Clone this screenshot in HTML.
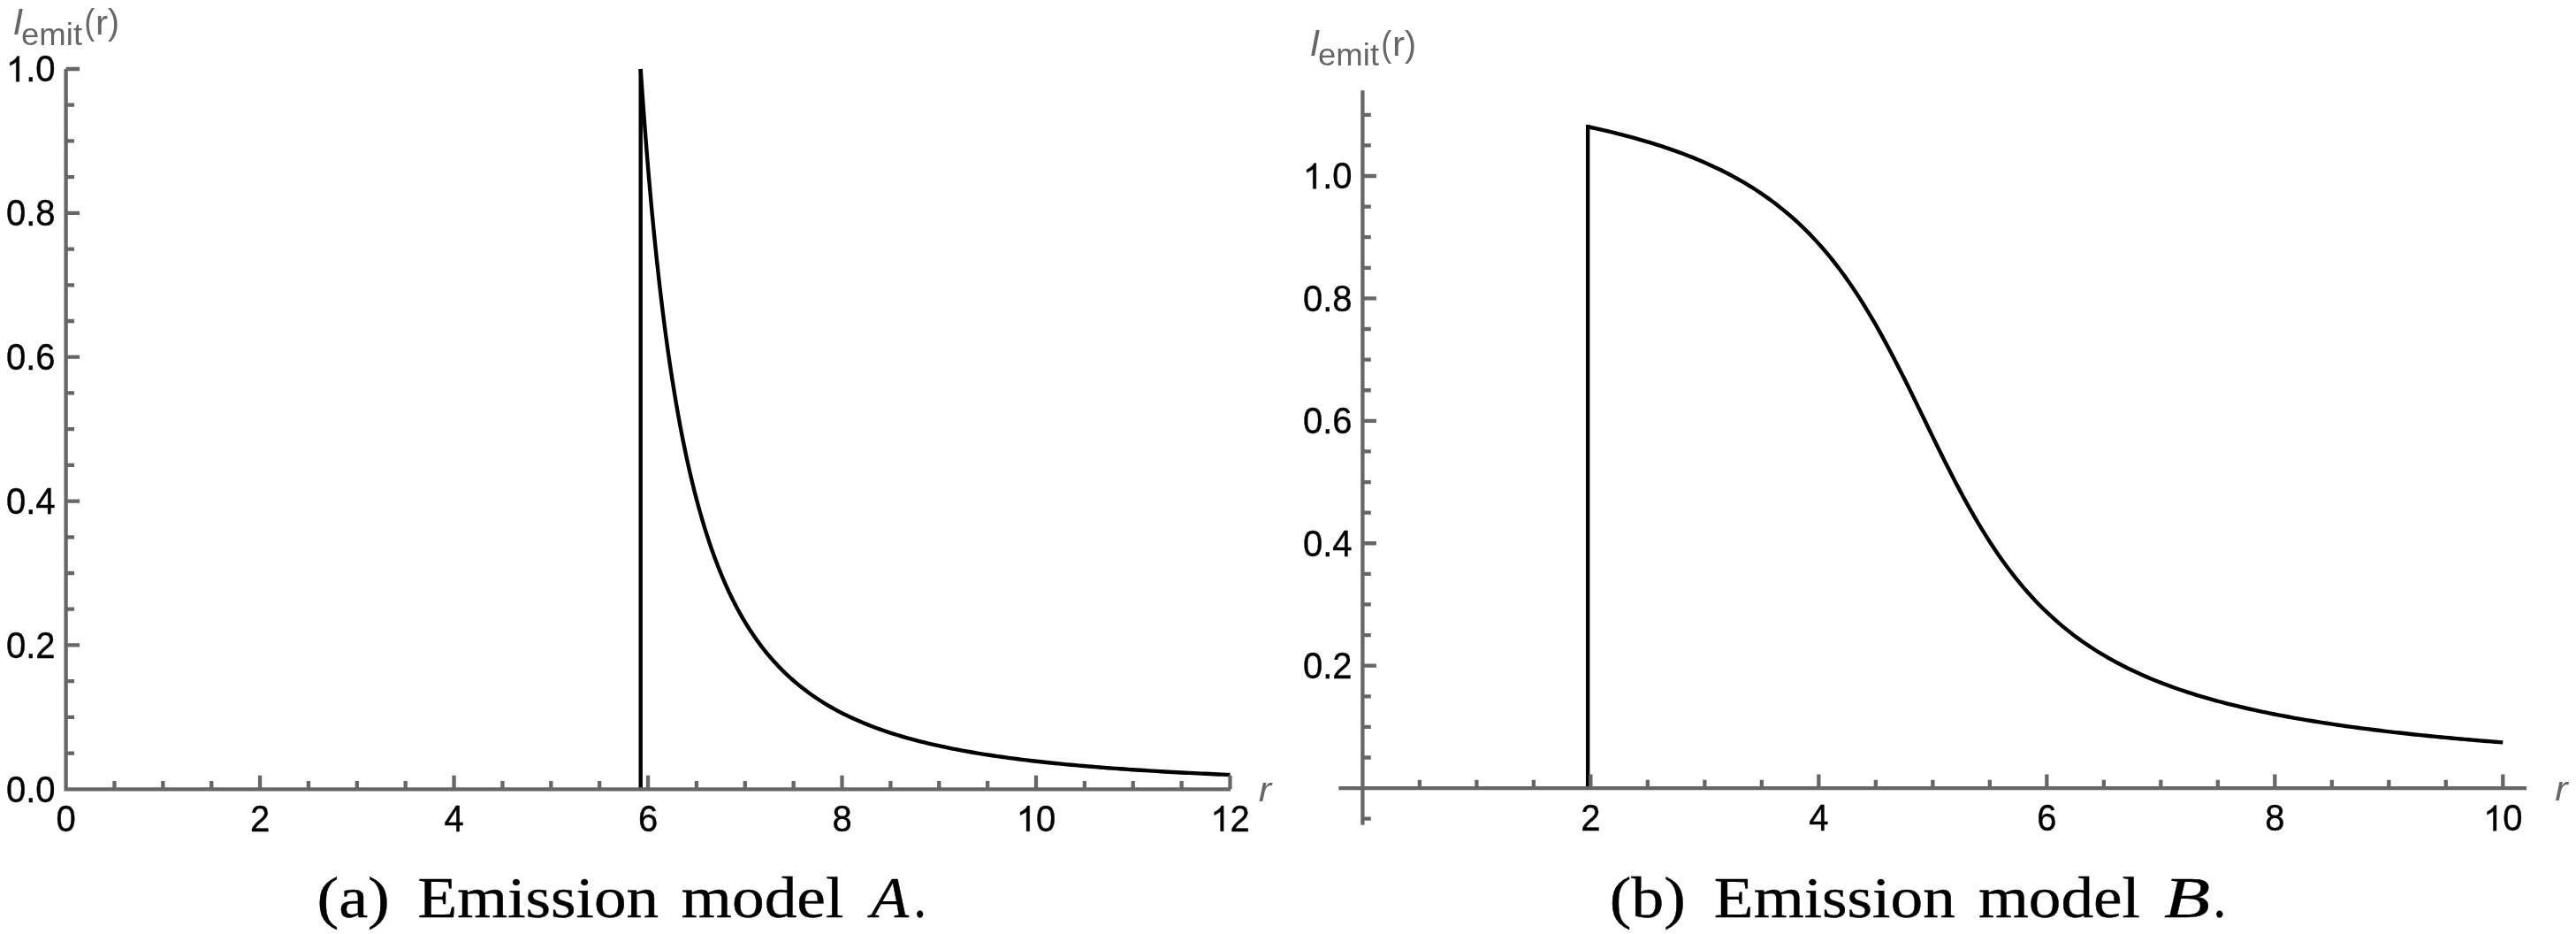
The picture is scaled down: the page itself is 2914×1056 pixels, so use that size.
<!DOCTYPE html>
<html><head><meta charset="utf-8"><style>
html,body{margin:0;padding:0;background:#fff;}
body{width:2914px;height:1056px;overflow:hidden;}
svg{display:block;will-change:transform;}
</style></head><body>
<svg width="2914" height="1056" viewBox="0 0 2914 1056">
<rect width="2914" height="1056" fill="#fff"/>
<path d="M724.7 892.3 V78" fill="none" stroke="#000" stroke-width="4.4"/>
<path d="M724.7 78 L725.55 90.46 L726.4 102.64 L727.25 114.54 L728.1 126.18 L728.95 137.56 L729.8 148.68 L730.65 159.56 L731.5 170.21 L732.35 180.62 L733.19 190.81 L734.04 200.78 L734.89 210.54 L735.74 220.1 L736.59 229.46 L737.44 238.62 L738.29 247.59 L739.14 256.38 L739.99 264.99 L740.84 273.43 L741.69 281.7 L742.54 289.81 L743.39 297.75 L744.24 305.54 L745.09 313.17 L745.94 320.66 L746.79 328.01 L747.64 335.21 L748.49 342.27 L749.34 349.21 L750.18 356.01 L751.03 362.68 L751.88 369.24 L752.73 375.67 L753.58 381.98 L754.43 388.18 L755.28 394.26 L756.13 400.24 L756.98 406.11 L757.83 411.87 L758.68 417.53 L759.53 423.1 L760.38 428.56 L761.23 433.93 L762.08 439.21 L762.93 444.4 L763.78 449.5 L764.63 454.51 L765.48 459.44 L766.33 464.28 L767.17 469.05 L768.02 473.73 L768.87 478.34 L769.72 482.87 L770.57 487.33 L771.42 491.72 L772.27 496.03 L773.12 500.28 L773.97 504.45 L774.82 508.56 L775.67 512.61 L776.52 516.59 L777.37 520.51 L778.22 524.37 L779.07 528.17 L779.92 531.91 L780.77 535.59 L781.62 539.22 L782.47 542.79 L783.32 546.31 L784.16 549.78 L785.01 553.19 L785.86 556.55 L786.71 559.87 L787.56 563.13 L788.41 566.35 L789.26 569.52 L790.11 572.64 L790.96 575.72 L791.81 578.75 L792.66 581.74 L793.51 584.69 L794.36 587.6 L795.21 590.46 L796.06 593.29 L796.91 596.07 L797.76 598.82 L798.61 601.53 L799.46 604.2 L800.31 606.84 L801.15 609.44 L802 612 L802.85 614.53 L803.7 617.02 L804.55 619.48 L805.4 621.91 L806.25 624.31 L807.1 626.67 L807.95 629.01 L808.8 631.31 L809.65 633.58 L810.5 635.82 L811.35 638.04 L812.2 640.22 L813.05 642.38 L813.9 644.51 L814.75 646.61 L815.6 648.69 L816.45 650.74 L817.3 652.76 L818.14 654.76 L818.99 656.74 L819.84 658.69 L820.69 660.61 L821.54 662.51 L822.39 664.39 L823.24 666.25 L824.09 668.08 L824.94 669.89 L825.79 671.68 L826.64 673.45 L827.49 675.19 L828.34 676.92 L829.19 678.62 L830.04 680.31 L830.89 681.97 L831.74 683.62 L832.59 685.24 L833.44 686.85 L834.29 688.44 L835.13 690.01 L835.98 691.56 L836.83 693.09 L837.68 694.61 L838.53 696.11 L839.38 697.59 L840.23 699.06 L841.08 700.51 L841.93 701.94 L842.78 703.36 L847.39 710.78 L852 717.77 L856.61 724.37 L861.22 730.6 L865.83 736.49 L870.45 742.06 L875.06 747.34 L879.67 752.35 L884.28 757.1 L888.89 761.61 L893.5 765.9 L898.11 769.99 L902.72 773.87 L907.33 777.58 L911.94 781.11 L916.55 784.49 L921.17 787.71 L925.78 790.79 L930.39 793.74 L935 796.56 L939.61 799.26 L944.22 801.84 L948.83 804.33 L953.44 806.71 L958.05 808.99 L962.66 811.19 L967.27 813.3 L971.89 815.32 L976.5 817.27 L981.11 819.15 L985.72 820.96 L990.33 822.7 L994.94 824.38 L999.55 826 L1004.16 827.56 L1008.77 829.07 L1013.38 830.52 L1018 831.93 L1022.61 833.29 L1027.22 834.6 L1031.83 835.87 L1036.44 837.1 L1041.05 838.29 L1045.66 839.44 L1050.27 840.55 L1054.88 841.63 L1059.49 842.67 L1064.1 843.69 L1068.72 844.67 L1073.33 845.62 L1077.94 846.55 L1082.55 847.45 L1087.16 848.32 L1091.77 849.17 L1096.38 849.99 L1100.99 850.79 L1105.6 851.56 L1110.21 852.32 L1114.82 853.05 L1119.44 853.77 L1124.05 854.46 L1128.66 855.14 L1133.27 855.8 L1137.88 856.44 L1142.49 857.06 L1147.1 857.67 L1151.71 858.26 L1156.32 858.84 L1160.93 859.4 L1165.54 859.95 L1170.16 860.49 L1174.77 861.01 L1179.38 861.52 L1183.99 862.01 L1188.6 862.5 L1193.21 862.97 L1197.82 863.43 L1202.43 863.89 L1207.04 864.33 L1211.65 864.76 L1216.26 865.18 L1220.88 865.59 L1225.49 865.99 L1230.1 866.38 L1234.71 866.77 L1239.32 867.14 L1243.93 867.51 L1248.54 867.87 L1253.15 868.22 L1257.76 868.57 L1262.37 868.9 L1266.99 869.23 L1271.6 869.56 L1276.21 869.87 L1280.82 870.18 L1285.43 870.48 L1290.04 870.78 L1294.65 871.07 L1299.26 871.36 L1303.87 871.64 L1308.48 871.91 L1313.09 872.18 L1317.71 872.44 L1322.32 872.7 L1326.93 872.95 L1331.54 873.2 L1336.15 873.45 L1340.76 873.68 L1345.37 873.92 L1349.98 874.15 L1354.59 874.37 L1359.2 874.6 L1363.81 874.81 L1368.43 875.03 L1373.04 875.24 L1377.65 875.44 L1382.26 875.64 L1386.87 875.84 L1391.48 876.04" fill="none" stroke="#000" stroke-width="4.4" stroke-linejoin="round"/>
<path d="M1796.16 891.1 V141.1" fill="none" stroke="#000" stroke-width="4.4"/>
<path d="M1796.16 143.3 L1800.49 144.23 L1804.82 145.17 L1809.15 146.14 L1813.48 147.13 L1817.81 148.14 L1822.14 149.18 L1826.47 150.23 L1830.8 151.31 L1835.14 152.41 L1839.47 153.54 L1843.8 154.69 L1848.13 155.87 L1852.46 157.07 L1856.79 158.31 L1861.12 159.57 L1865.45 160.87 L1869.78 162.19 L1874.12 163.55 L1878.45 164.94 L1882.78 166.36 L1887.11 167.82 L1891.44 169.32 L1895.77 170.85 L1900.1 172.43 L1904.43 174.04 L1908.77 175.7 L1913.1 177.4 L1917.43 179.15 L1921.76 180.95 L1926.09 182.79 L1930.42 184.69 L1934.75 186.64 L1939.08 188.64 L1943.41 190.7 L1947.75 192.82 L1952.08 195.01 L1956.41 197.25 L1960.74 199.57 L1965.07 201.95 L1969.4 204.41 L1973.73 206.94 L1978.06 209.55 L1982.39 212.24 L1986.73 215.01 L1991.06 217.87 L1995.39 220.83 L1999.72 223.88 L2004.05 227.03 L2008.38 230.28 L2012.71 233.64 L2017.04 237.11 L2021.38 240.69 L2025.71 244.4 L2030.04 248.23 L2034.37 252.19 L2038.7 256.29 L2043.03 260.52 L2047.36 264.9 L2051.69 269.43 L2056.02 274.12 L2060.36 278.96 L2064.69 283.97 L2069.02 289.14 L2073.35 294.5 L2077.68 300.02 L2082.01 305.74 L2086.34 311.63 L2090.67 317.72 L2095 324 L2099.34 330.47 L2103.67 337.13 L2108 343.99 L2112.33 351.04 L2116.66 358.29 L2120.99 365.72 L2125.32 373.34 L2129.65 381.13 L2133.98 389.09 L2138.32 397.22 L2142.65 405.49 L2146.98 413.9 L2151.31 422.44 L2155.64 431.08 L2159.97 439.82 L2164.3 448.63 L2168.63 457.49 L2172.97 466.39 L2177.3 475.31 L2181.63 484.23 L2185.96 493.12 L2190.29 501.97 L2194.62 510.76 L2198.95 519.46 L2203.28 528.07 L2207.61 536.56 L2211.95 544.93 L2216.28 553.15 L2220.61 561.22 L2224.94 569.13 L2229.27 576.86 L2233.6 584.41 L2237.93 591.78 L2242.26 598.96 L2246.59 605.94 L2250.93 612.74 L2255.26 619.33 L2259.59 625.74 L2263.92 631.95 L2268.25 637.97 L2272.58 643.8 L2276.91 649.45 L2281.24 654.91 L2285.58 660.2 L2289.91 665.32 L2294.24 670.27 L2298.57 675.06 L2302.9 679.69 L2307.23 684.17 L2311.56 688.5 L2315.89 692.68 L2320.22 696.73 L2324.56 700.65 L2328.89 704.43 L2333.22 708.1 L2337.55 711.64 L2341.88 715.08 L2346.21 718.4 L2350.54 721.61 L2354.87 724.73 L2359.2 727.74 L2363.54 730.66 L2367.87 733.5 L2372.2 736.24 L2376.53 738.9 L2380.86 741.48 L2385.19 743.99 L2389.52 746.42 L2393.85 748.78 L2398.19 751.07 L2402.52 753.29 L2406.85 755.45 L2411.18 757.55 L2415.51 759.6 L2419.84 761.58 L2424.17 763.51 L2428.5 765.39 L2432.83 767.22 L2437.17 769 L2441.5 770.73 L2445.83 772.41 L2450.16 774.06 L2454.49 775.66 L2458.82 777.22 L2463.15 778.74 L2467.48 780.23 L2471.81 781.67 L2476.15 783.09 L2480.48 784.46 L2484.81 785.81 L2489.14 787.12 L2493.47 788.41 L2497.8 789.66 L2502.13 790.88 L2506.46 792.08 L2510.79 793.25 L2515.13 794.39 L2519.46 795.51 L2523.79 796.6 L2528.12 797.67 L2532.45 798.72 L2536.78 799.75 L2541.11 800.75 L2545.44 801.73 L2549.78 802.69 L2554.11 803.64 L2558.44 804.56 L2562.77 805.46 L2567.1 806.35 L2571.43 807.22 L2575.76 808.07 L2580.09 808.9 L2584.42 809.72 L2588.76 810.53 L2593.09 811.31 L2597.42 812.09 L2601.75 812.85 L2606.08 813.59 L2610.41 814.32 L2614.74 815.04 L2619.07 815.75 L2623.4 816.44 L2627.74 817.12 L2632.07 817.79 L2636.4 818.44 L2640.73 819.09 L2645.06 819.72 L2649.39 820.34 L2653.72 820.96 L2658.05 821.56 L2662.39 822.15 L2666.72 822.73 L2671.05 823.31 L2675.38 823.87 L2679.71 824.43 L2684.04 824.97 L2688.37 825.51 L2692.7 826.04 L2697.03 826.56 L2701.37 827.07 L2705.7 827.57 L2710.03 828.07 L2714.36 828.56 L2718.69 829.04 L2723.02 829.52 L2727.35 829.98 L2731.68 830.44 L2736.01 830.9 L2740.35 831.34 L2744.68 831.78 L2749.01 832.22 L2753.34 832.65 L2757.67 833.07 L2762 833.48 L2766.33 833.89 L2770.66 834.3 L2775 834.7 L2779.33 835.09 L2783.66 835.48 L2787.99 835.86 L2792.32 836.24 L2796.65 836.61 L2800.98 836.98 L2805.31 837.34 L2809.64 837.7 L2813.98 838.05 L2818.31 838.4 L2822.64 838.75 L2826.97 839.09 L2831.3 839.42" fill="none" stroke="#000" stroke-width="4.4" stroke-linejoin="round"/>
<path d="M72.45 892.3 H1392.08 M74.6 894.45 V78 M74.6 892.3 H90.1 M74.6 851.58 H84 M74.6 810.87 H84 M74.6 770.15 H84 M74.6 729.44 H90.1 M74.6 688.72 H84 M74.6 648.01 H84 M74.6 607.29 H84 M74.6 566.58 H90.1 M74.6 525.87 H84 M74.6 485.15 H84 M74.6 444.43 H84 M74.6 403.72 H90.1 M74.6 363 H84 M74.6 322.29 H84 M74.6 281.58 H84 M74.6 240.86 H90.1 M74.6 200.14 H84 M74.6 159.43 H84 M74.6 118.71 H84 M74.6 78 H90.1 M129.47 892.3 V882.9 M184.34 892.3 V882.9 M239.21 892.3 V882.9 M294.08 892.3 V876.8 M348.95 892.3 V882.9 M403.82 892.3 V882.9 M458.69 892.3 V882.9 M513.56 892.3 V876.8 M568.43 892.3 V882.9 M623.3 892.3 V882.9 M678.17 892.3 V882.9 M733.04 892.3 V876.8 M787.91 892.3 V882.9 M842.78 892.3 V882.9 M897.65 892.3 V882.9 M952.52 892.3 V876.8 M1007.39 892.3 V882.9 M1062.26 892.3 V882.9 M1117.13 892.3 V882.9 M1172 892.3 V876.8 M1226.87 892.3 V882.9 M1281.74 892.3 V882.9 M1336.61 892.3 V882.9 M1391.48 892.3 V876.8" fill="none" stroke="#666666" stroke-width="4.3"/>
<path d="M1514.3 891.1 H2858.1 M1541.4 932.7 V102.2 M1541.4 925.71 H1550.8 M1541.4 856.5 H1550.8 M1541.4 821.89 H1550.8 M1541.4 787.28 H1550.8 M1541.4 752.68 H1556.9 M1541.4 718.08 H1550.8 M1541.4 683.47 H1550.8 M1541.4 648.87 H1550.8 M1541.4 614.26 H1556.9 M1541.4 579.65 H1550.8 M1541.4 545.05 H1550.8 M1541.4 510.44 H1550.8 M1541.4 475.84 H1556.9 M1541.4 441.24 H1550.8 M1541.4 406.63 H1550.8 M1541.4 372.02 H1550.8 M1541.4 337.42 H1556.9 M1541.4 302.81 H1550.8 M1541.4 268.21 H1550.8 M1541.4 233.6 H1550.8 M1541.4 199 H1556.9 M1541.4 164.39 H1550.8 M1541.4 129.79 H1550.8 M1605.89 891.1 V881.7 M1670.39 891.1 V881.7 M1734.89 891.1 V881.7 M1799.38 891.1 V875.6 M1863.88 891.1 V881.7 M1928.37 891.1 V881.7 M1992.87 891.1 V881.7 M2057.36 891.1 V875.6 M2121.86 891.1 V881.7 M2186.35 891.1 V881.7 M2250.85 891.1 V881.7 M2315.34 891.1 V875.6 M2379.84 891.1 V881.7 M2444.33 891.1 V881.7 M2508.83 891.1 V881.7 M2573.32 891.1 V875.6 M2637.82 891.1 V881.7 M2702.31 891.1 V881.7 M2766.81 891.1 V881.7 M2831.3 891.1 V875.6" fill="none" stroke="#666666" stroke-width="4.3"/>
<g font-family='"Liberation Sans", sans-serif' font-size="40" fill="#000" stroke="#000" stroke-width="0.4"><text transform="translate(62.5,906.6) scale(1,1.04)" x="0" y="0" text-anchor="end">0.0</text><text transform="translate(62.5,743.74) scale(1,1.04)" x="0" y="0" text-anchor="end">0.2</text><text transform="translate(62.5,580.88) scale(1,1.04)" x="0" y="0" text-anchor="end">0.4</text><text transform="translate(62.5,418.02) scale(1,1.04)" x="0" y="0" text-anchor="end">0.6</text><text transform="translate(62.5,255.16) scale(1,1.04)" x="0" y="0" text-anchor="end">0.8</text><text transform="translate(62.5,92.3) scale(1,1.04)" x="0" y="0" text-anchor="end"><tspan style="fill:none;stroke:none">1</tspan>.0</text><text transform="translate(74.6,939.8) scale(1,1.04)" x="0" y="0" text-anchor="middle">0</text><text transform="translate(294.08,939.8) scale(1,1.04)" x="0" y="0" text-anchor="middle">2</text><text transform="translate(513.56,939.8) scale(1,1.04)" x="0" y="0" text-anchor="middle">4</text><text transform="translate(733.04,939.8) scale(1,1.04)" x="0" y="0" text-anchor="middle">6</text><text transform="translate(952.52,939.8) scale(1,1.04)" x="0" y="0" text-anchor="middle">8</text><text transform="translate(1172,939.8) scale(1,1.04)" x="0" y="0" text-anchor="middle"><tspan style="fill:none;stroke:none">1</tspan>0</text><text transform="translate(1391.48,939.8) scale(1,1.04)" x="0" y="0" text-anchor="middle"><tspan style="fill:none;stroke:none">1</tspan>2</text><text transform="translate(1529.5,766.98) scale(1,1.04)" x="0" y="0" text-anchor="end">0.2</text><text transform="translate(1529.5,628.56) scale(1,1.04)" x="0" y="0" text-anchor="end">0.4</text><text transform="translate(1529.5,490.14) scale(1,1.04)" x="0" y="0" text-anchor="end">0.6</text><text transform="translate(1529.5,351.72) scale(1,1.04)" x="0" y="0" text-anchor="end">0.8</text><text transform="translate(1529.5,213.3) scale(1,1.04)" x="0" y="0" text-anchor="end"><tspan style="fill:none;stroke:none">1</tspan>.0</text><text transform="translate(1799.38,939.3) scale(1,1.04)" x="0" y="0" text-anchor="middle">2</text><text transform="translate(2057.36,939.3) scale(1,1.04)" x="0" y="0" text-anchor="middle">4</text><text transform="translate(2315.34,939.3) scale(1,1.04)" x="0" y="0" text-anchor="middle">6</text><text transform="translate(2573.32,939.3) scale(1,1.04)" x="0" y="0" text-anchor="middle">8</text><text transform="translate(2831.3,939.3) scale(1,1.04)" x="0" y="0" text-anchor="middle"><tspan style="fill:none;stroke:none">1</tspan>0</text><path transform="translate(6.9,92.3)" d="M14.9 0H11.39V-22.4Q10.12 -21.19 8.06 -19.98Q6 -18.77 4.36 -18.16V-21.56Q7.3 -22.95 9.51 -24.92Q11.72 -26.89 12.64 -28.75H14.9Z"/><path transform="translate(1149.76,939.8)" d="M14.9 0H11.39V-22.4Q10.12 -21.19 8.06 -19.98Q6 -18.77 4.36 -18.16V-21.56Q7.3 -22.95 9.51 -24.92Q11.72 -26.89 12.64 -28.75H14.9Z"/><path transform="translate(1369.24,939.8)" d="M14.9 0H11.39V-22.4Q10.12 -21.19 8.06 -19.98Q6 -18.77 4.36 -18.16V-21.56Q7.3 -22.95 9.51 -24.92Q11.72 -26.89 12.64 -28.75H14.9Z"/><path transform="translate(1473.9,213.3)" d="M14.9 0H11.39V-22.4Q10.12 -21.19 8.06 -19.98Q6 -18.77 4.36 -18.16V-21.56Q7.3 -22.95 9.51 -24.92Q11.72 -26.89 12.64 -28.75H14.9Z"/><path transform="translate(2809.06,939.3)" d="M14.9 0H11.39V-22.4Q10.12 -21.19 8.06 -19.98Q6 -18.77 4.36 -18.16V-21.56Q7.3 -22.95 9.51 -24.92Q11.72 -26.89 12.64 -28.75H14.9Z"/></g>
<text transform="translate(14.54,39.28) scale(1.0512,1.0513)" x="0" y="0" font-family='"Liberation Sans", sans-serif' font-size="40" font-style="italic" fill="#666666">I</text>
<text transform="translate(23.97,50.97) scale(1.0156,0.9949)" x="0" y="0" font-family='"Liberation Sans", sans-serif' font-size="36" font-style="normal" fill="#666666">emit</text>
<text transform="translate(95.14,39.37) scale(0.8992,1.0332)" x="0" y="0" font-family='"Liberation Sans", sans-serif' font-size="40" font-style="normal" fill="#666666">(</text>
<text transform="translate(107.99,39.27) scale(1.0600,0.9750)" x="0" y="0" font-family='"Liberation Sans", sans-serif' font-size="40" font-style="normal" fill="#666666">r</text>
<text transform="translate(122.02,39.37) scale(0.9792,1.0332)" x="0" y="0" font-family='"Liberation Sans", sans-serif' font-size="40" font-style="normal" fill="#666666">)</text>
<text transform="translate(1481.54,62.57) scale(1.0512,1.0513)" x="0" y="0" font-family='"Liberation Sans", sans-serif' font-size="40" font-style="italic" fill="#666666">I</text>
<text transform="translate(1490.97,74.23) scale(1.0156,0.9949)" x="0" y="0" font-family='"Liberation Sans", sans-serif' font-size="36" font-style="normal" fill="#666666">emit</text>
<text transform="translate(1562.14,63.68) scale(0.8992,1.0332)" x="0" y="0" font-family='"Liberation Sans", sans-serif' font-size="40" font-style="normal" fill="#666666">(</text>
<text transform="translate(1574.99,62.64) scale(1.0600,0.9750)" x="0" y="0" font-family='"Liberation Sans", sans-serif' font-size="40" font-style="normal" fill="#666666">r</text>
<text transform="translate(1589.02,63.68) scale(0.9792,1.0332)" x="0" y="0" font-family='"Liberation Sans", sans-serif' font-size="40" font-style="normal" fill="#666666">)</text>
<text transform="translate(1423.81,905.62) scale(1.0800,0.9591)" x="0" y="0" font-family='"Liberation Sans", sans-serif' font-size="40" font-style="italic" fill="#666666">r</text>
<text transform="translate(2890.16,904.94) scale(1.0800,0.9481)" x="0" y="0" font-family='"Liberation Sans", sans-serif' font-size="40" font-style="italic" fill="#666666">r</text>
<text transform="translate(358.39,1036.7) scale(1.1433,1.0000)" x="0" y="0" font-family='"Liberation Serif", serif' font-size="65" font-style="normal" fill="#000" stroke="#000" stroke-width="0.4">(a)</text>
<text transform="translate(472.59,1036.7) scale(1.1264,1.0000)" x="0" y="0" font-family='"Liberation Serif", serif' font-size="65" font-style="normal" fill="#000" stroke="#000" stroke-width="0.4">Emission</text>
<text transform="translate(770.87,1036.7) scale(1.1294,1.0000)" x="0" y="0" font-family='"Liberation Serif", serif' font-size="65" font-style="normal" fill="#000" stroke="#000" stroke-width="0.4">model</text>
<text transform="translate(985.37,1036.7) scale(1.0765,1.0000)" x="0" y="0" font-family='"Liberation Serif", serif' font-size="65" font-style="italic" fill="#000" stroke="#000" stroke-width="0.4">A</text>
<text transform="translate(1033.58,1036.7) scale(0.8907,1.0000)" x="0" y="0" font-family='"Liberation Serif", serif' font-size="65" font-style="normal" fill="#000" stroke="#000" stroke-width="0.4">.</text>
<text transform="translate(1820.68,1036.7) scale(1.1371,1.0000)" x="0" y="0" font-family='"Liberation Serif", serif' font-size="65" font-style="normal" fill="#000" stroke="#000" stroke-width="0.4">(b)</text>
<text transform="translate(1938.85,1036.7) scale(1.1282,1.0000)" x="0" y="0" font-family='"Liberation Serif", serif' font-size="65" font-style="normal" fill="#000" stroke="#000" stroke-width="0.4">Emission</text>
<text transform="translate(2237.94,1036.7) scale(1.1259,1.0000)" x="0" y="0" font-family='"Liberation Serif", serif' font-size="65" font-style="normal" fill="#000" stroke="#000" stroke-width="0.4">model</text>
<text transform="translate(2447.9,1036.7) scale(1.3130,1.0000)" x="0" y="0" font-family='"Liberation Serif", serif' font-size="65" font-style="italic" fill="#000" stroke="#000" stroke-width="0.4">B</text>
<text transform="translate(2503.4,1036.7) scale(0.9030,1.0000)" x="0" y="0" font-family='"Liberation Serif", serif' font-size="65" font-style="normal" fill="#000" stroke="#000" stroke-width="0.4">.</text>
</svg>
</body></html>
